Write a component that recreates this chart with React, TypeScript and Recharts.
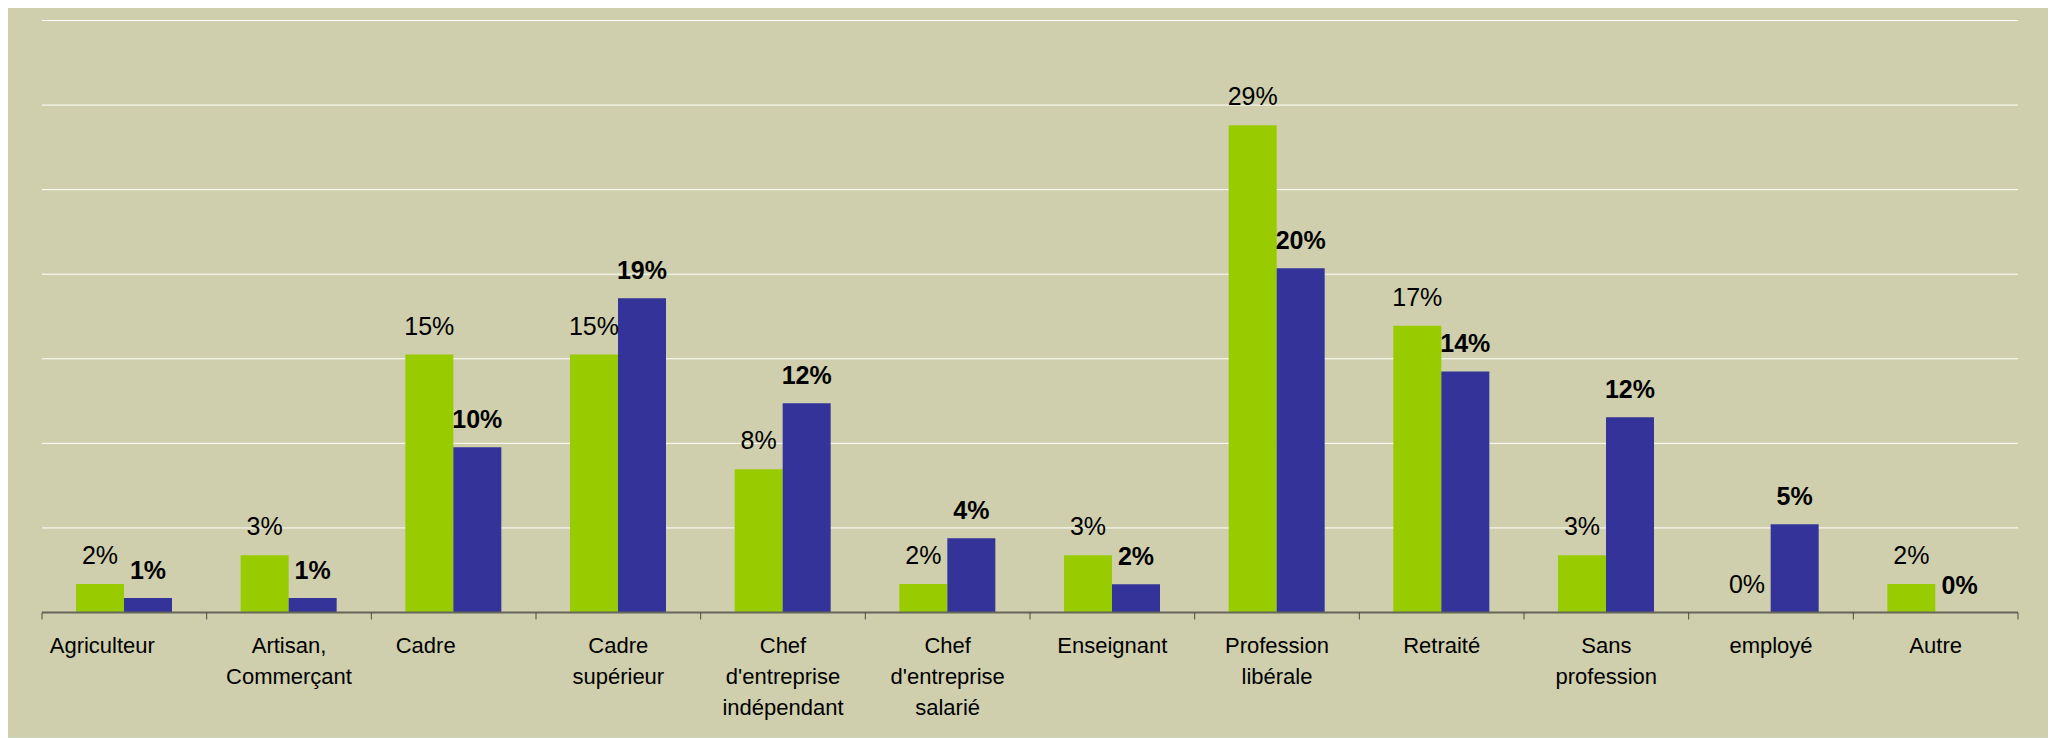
import React from 'react';
import { BarChart, Bar, XAxis, YAxis, CartesianGrid, LabelList, ReferenceDot } from 'recharts';

// categories (line breaks as in the original axis labels)
const categories = [
  'Agriculteur',
  'Artisan,\nCommerçant',
  'Cadre',
  'Cadre\nsupérieur',
  'Chef\nd\'entreprise\nindépendant',
  'Chef\nd\'entreprise\nsalarié',
  'Enseignant',
  'Profession\nlibérale',
  'Retraité',
  'Sans\nprofession',
  'employé',
  'Autre',
];

// share in % (green series, labelled in regular type)
const greenValues = [1.69, 3.39, 15.25, 15.25, 8.47, 1.69, 3.39, 28.81, 16.95, 3.39, 0, 1.69];
// share in % (blue series, labelled in bold)
const blueValues = [0.85, 0.85, 9.77, 18.58, 12.37, 4.39, 1.67, 20.35, 14.25, 11.55, 5.22, 0];

const yTicks = [0, 5, 10, 15, 20, 25, 30, 35];

const data = categories.map((name, i) => ({
  name,
  green: greenValues[i],
  blue: blueValues[i],
}));

const W = 2044;
const H = 729;
const MARGIN = { top: 12.5, right: 34, bottom: 0, left: 34 };
const BAND = (W - MARGIN.left - MARGIN.right) / categories.length;
const BAR = 48;
const FONT = '"Liberation Sans", Arial, sans-serif';

// a couple of labels sit left of their slot in the original
const labelNudge: Record<string, number> = { Agriculteur: -22, Cadre: -28 };

const pct = (v: any) => `${Math.round(Number(v))}%`;

const CategoryTick = (props: any) => {
  const { x, y, payload } = props;
  const value = String(payload.value);
  const lines = value.split('\n');
  const tx = x + (labelNudge[value] ?? 0);
  const isLast = value === categories[categories.length - 1];
  return (
    <g>
      <line x1={x - BAND / 2} x2={x - BAND / 2} y1={y} y2={y + 7} stroke="#4a4a40" strokeWidth={1} />
      {isLast && (
        <line x1={x + BAND / 2} x2={x + BAND / 2} y1={y} y2={y + 7} stroke="#4a4a40" strokeWidth={1} />
      )}
      <text x={tx} y={y} textAnchor="middle" fontFamily={FONT} fontSize={22} fill="#000">
        {lines.map((l, i) => (
          <tspan key={i} x={tx} dy={i === 0 ? 40 : 31}>
            {l}
          </tspan>
        ))}
      </text>
    </g>
  );
};

const labelText = (cx: number, y: number, value: number, bold: boolean) => (
  <text
    x={cx}
    y={y}
    textAnchor="middle"
    fontFamily={FONT}
    fontSize={25}
    fontWeight={bold ? 'bold' : 'normal'}
    fill="#000"
  >
    {pct(value)}
  </text>
);

// value label drawn above each bar
const valueLabel = (bold: boolean, gap: number) => (props: any) => {
  const { x, y, width, value } = props;
  if (value == null || x == null || y == null) return null;
  return labelText(Number(x) + Number(width) / 2, Number(y) - gap, value, bold);
};

// zero-height bars get no label entry, so their "0%" hangs off a reference dot
const zeroLabels = data.flatMap((d) => {
  const out: { name: string; side: number; bold: boolean; gap: number }[] = [];
  if (d.green === 0) out.push({ name: d.name, side: -1, bold: false, gap: 20 });
  if (d.blue === 0) out.push({ name: d.name, side: 1, bold: true, gap: 19 });
  return out;
});

export default function App() {
  return (
    <div
      style={{
        margin: '-1px 0 0 -1px',
        width: W,
        height: H,
        background: '#CFCFAD',
        border: '1px solid #C9D8C2',
      }}
    >
      <BarChart width={W} height={H} data={data} margin={MARGIN} barSize={BAR} barGap={0}>
        <CartesianGrid vertical={false} stroke="#FFFFFF" strokeWidth={1} />
        <XAxis
          dataKey="name"
          interval={0}
          height={H - MARGIN.top - 592}
          tickSize={0}
          tickMargin={0}
          tickLine={false}
          axisLine={{ stroke: '#66665A', strokeWidth: 2 }}
          tick={<CategoryTick />}
        />
        <YAxis hide domain={[0, 35]} ticks={yTicks} />
        <Bar dataKey="green" fill="#99CC00" isAnimationActive={false}>
          <LabelList dataKey="green" content={valueLabel(false, 20)} />
        </Bar>
        <Bar dataKey="blue" fill="#333399" isAnimationActive={false}>
          <LabelList dataKey="blue" content={valueLabel(true, 19)} />
        </Bar>
        {zeroLabels.map((z) => (
          <ReferenceDot
            key={`${z.name}-${z.side}`}
            x={z.name}
            y={0}
            r={0}
            fill="none"
            stroke="none"
            label={(p: any) => {
              const vb = p.viewBox || {};
              return labelText(vb.x + (z.side * BAR) / 2, vb.y - z.gap, 0, z.bold);
            }}
          />
        ))}
      </BarChart>
    </div>
  );
}
